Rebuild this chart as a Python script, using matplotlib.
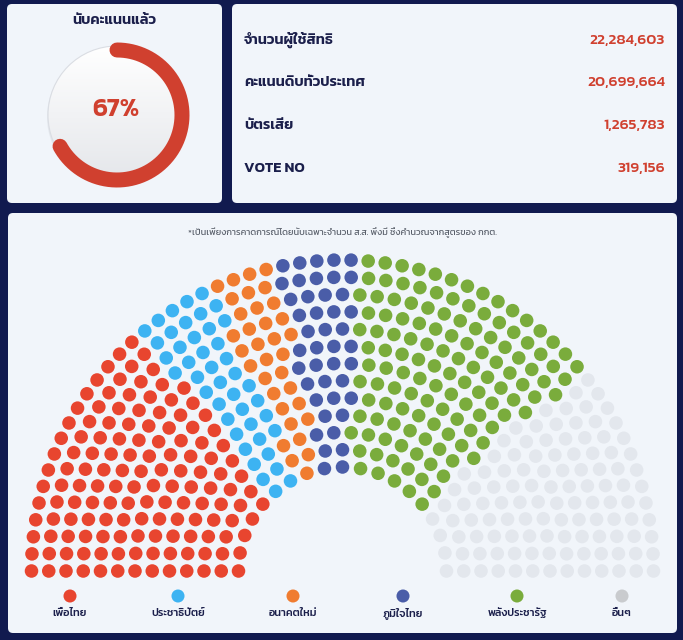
import matplotlib
matplotlib.use("Agg")
import numpy as np
import matplotlib.pyplot as plt
from matplotlib import font_manager
from matplotlib.patches import FancyBboxPatch, Circle
from matplotlib.colors import LinearSegmentedColormap

# ---- data ----
counted_pct = 67
stat_labels = ["จำนวนผู้ใช้สิทธิ", "คะแนนดิบทั่วประเทศ", "บัตรเสีย", "VOTE NO"]
stat_values = [22284603, 20699664, 1265783, 319156]
parties = ["เพื่อไทย", "ประชาธิปัตย์", "อนาคตใหม่", "ภูมิใจไทย", "พลังประชารัฐ", "อื่นๆ"]
seats = [139, 43, 34, 43, 128, 113]
seat_colors = ["#e8452f", "#3db3f2", "#f07c30", "#4a5da8", "#7aac3c", "#e3e7ed"]
legend_colors = ["#e8452f", "#3db3f2", "#f07c30", "#4a5da8", "#7aac3c", "#c9cbce"]
footnote = "*เป็นเพียงการคาดการณ์โดยนับเฉพาะจำนวน ส.ส. พึงมี ซึ่งคำนวณจากสูตรของ กกต."

NAVY_BG = "#111a4f"
PANEL = "#f1f5fa"
INK = "#1b1f4b"
RED = "#d0402f"

installed = {f.name for f in font_manager.fontManager.ttflist}
thai = next((f for f in ["Kanit", "Prompt", "Mitr", "Sarabun"] if f in installed), "DejaVu Sans")
plt.rcParams["font.family"] = [thai, "DejaVu Sans"]

fig = plt.figure(figsize=(6.83, 6.4), dpi=100, facecolor=NAVY_BG)
ax = fig.add_axes([0, 0, 1, 1])
ax.set_facecolor(NAVY_BG)
ax.axis("off")


def panel(x0, y0, x1, y1):
    ax.add_patch(FancyBboxPatch((x0, y0), x1 - x0, y1 - y0,
                                boxstyle="round,pad=0,rounding_size=5",
                                fc=PANEL, ec="none", zorder=0))


panel(7, 4, 222, 203)
panel(232, 4, 677, 203)
panel(8, 213, 677, 633)

# ---- gauge ----
cx, cy = 117, 115
ax.text(114, 20, "นับคะแนนแล้ว", ha="center", va="center", fontsize=10.5,
        fontweight="semibold", color=INK)
ax.add_patch(Circle((cx, cy + 2), 70, fc="#000000", alpha=0.05, ec="none", zorder=1))
grad = np.linspace(0, 1, 100).reshape(-1, 1)
cmap = LinearSegmentedColormap.from_list("g", ["#ffffff", "#e4e6ea"])
clip = Circle((cx, cy), 69, transform=ax.transData)
im = ax.imshow(grad, cmap=cmap, extent=(cx - 69, cx + 69, cy + 69, cy - 69),
               aspect="auto", zorder=2)
im.set_clip_path(clip)
ax.add_patch(Circle((cx, cy), 69, fc="none", ec="#dadde3", lw=0.8, zorder=2))
theta = np.radians(np.linspace(90, 90 - 360 * counted_pct / 100, 300))
R = 65
ax.plot(cx + R * np.cos(theta), cy - R * np.sin(theta), color=RED, lw=15 * 0.72,
        solid_capstyle="round", zorder=3)
ax.text(cx - 1, 110, f"{counted_pct}%", ha="center", va="center", fontsize=18.5,
        fontweight="semibold", color=RED, zorder=4)

# ---- stats ----
for i, (lab, val) in enumerate(zip(stat_labels, stat_values)):
    y = 40 + i * 42.7
    ax.text(244, y, lab, ha="left", va="center", fontsize=10.5,
            fontweight="semibold", color=INK)
    ax.text(665, y, f"{val:,}", ha="right", va="center", fontsize=11,
            fontweight="medium", color=RED)

# ---- parliament ----
ax.text(342, 233, footnote, ha="center", va="center", fontsize=6.6, color="#5a606b")
pcx, pcy = 342.5, 571
inner_r, row_gap, n_rows = 104, 17.25, 13
total = sum(seats)
rows_r = inner_r + row_gap * np.arange(n_rows)
raw = total * rows_r / rows_r.sum()
per_row = np.floor(raw).astype(int)
rest = total - per_row.sum()
per_row[np.argsort(-(raw - per_row))[:rest]] += 1
pts = []
for r, n in zip(rows_r, per_row):
    for j in range(n):
        pts.append((round(np.pi - np.pi * j / (n - 1), 9), r))
pts.sort(key=lambda p: (-p[0], -p[1]))
ang = np.array([p[0] for p in pts])
rad = np.array([p[1] for p in pts])
cols = np.repeat(seat_colors, seats)
ax.scatter(pcx + rad * np.cos(ang), pcy - rad * np.sin(ang), s=95, c=cols,
           linewidths=0, zorder=3)

legend_x = [70, 178, 293, 403, 517, 622]
ax.scatter(legend_x, [596] * len(parties), s=88, c=legend_colors, linewidths=0, zorder=3)
for x, name in zip(legend_x, parties):
    ax.text(x, 613, name, ha="center", va="center", fontsize=7.8,
            fontweight="medium", color=INK)

ax.set_xlim(0, 683)
ax.set_ylim(640, 0)
fig.savefig("out.png", dpi=100, facecolor=NAVY_BG)
